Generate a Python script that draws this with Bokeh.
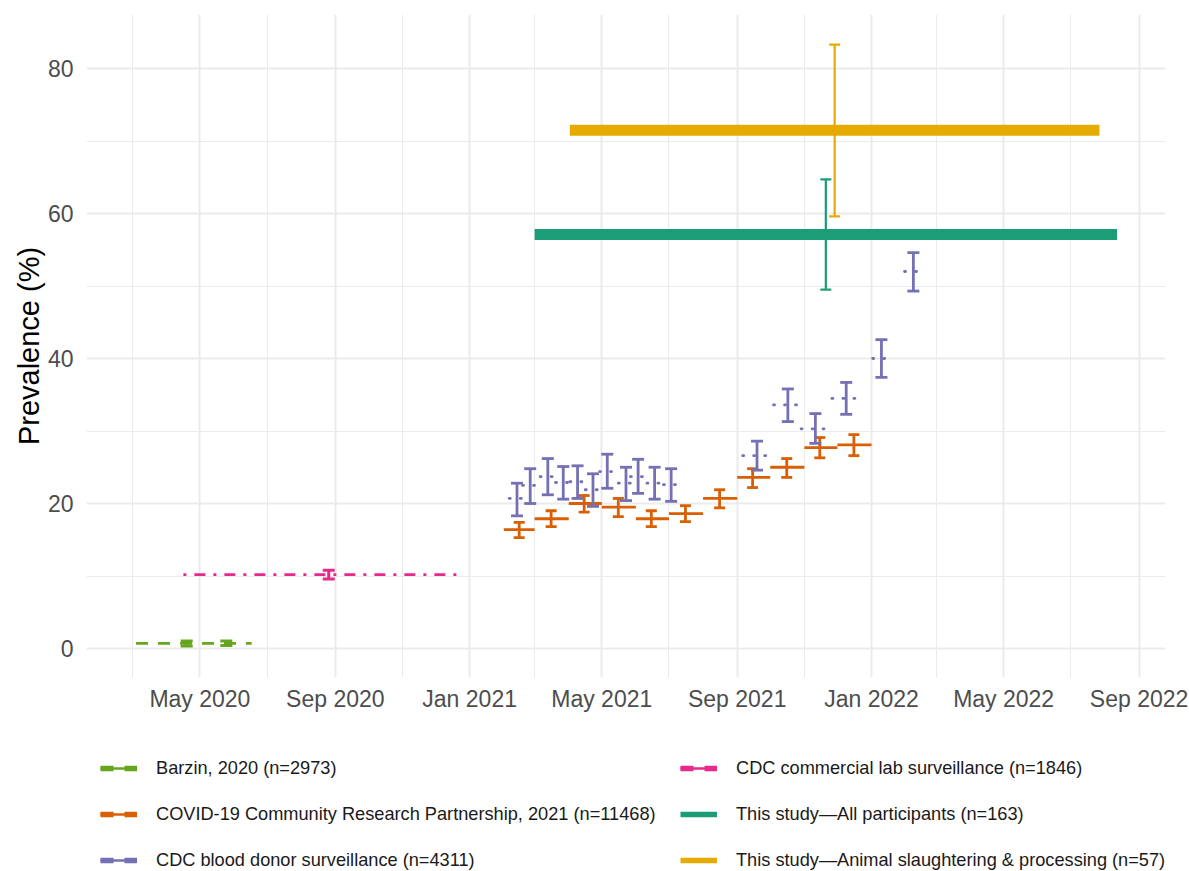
import pandas as pd
from bokeh.plotting import figure
from bokeh.layouts import column
from bokeh.models import (ColumnDataSource, Whisker, TeeHead, FixedTicker,
                          DatetimeTickFormatter, Range1d, Legend, LegendItem)
from bokeh.embed import file_html
from bokeh.resources import INLINE

# ---------------- data ----------------
# Barzin, 2020
barzin_start = ["2020-03-04"]
barzin_end = ["2020-06-17"]
barzin_value = [0.7]
barzin_ci_dates = ["2020-04-19", "2020-05-25"]
barzin_ci_lo = [0.35, 0.4]
barzin_ci_hi = [1.05, 1.05]

# CDC commercial lab surveillance
cdc_lab_start = ["2020-04-16"]
cdc_lab_end = ["2020-12-27"]
cdc_lab_value = [10.2]
cdc_lab_ci_dates = ["2020-08-26"]
cdc_lab_ci_lo = [9.6]
cdc_lab_ci_hi = [10.8]

# COVID-19 Community Research Partnership, 2021 (monthly)
crp_start = ["2021-02-01", "2021-03-01", "2021-04-01", "2021-05-01", "2021-06-01", "2021-07-01",
             "2021-08-01", "2021-09-01", "2021-10-01", "2021-11-01", "2021-12-01"]
crp_end = ["2021-03-01", "2021-04-01", "2021-05-01", "2021-06-01", "2021-07-01", "2021-08-01",
           "2021-09-01", "2021-10-01", "2021-11-01", "2021-12-01", "2022-01-01"]
crp_mid = ["2021-02-15", "2021-03-16", "2021-04-15", "2021-05-16", "2021-06-15", "2021-07-16",
           "2021-08-16", "2021-09-15", "2021-10-16", "2021-11-15", "2021-12-16"]
crp_value = [16.4, 17.9, 20.0, 19.5, 17.9, 18.6, 20.7, 23.6, 25.0, 27.7, 28.1]
crp_lo = [15.3, 16.8, 18.8, 18.2, 16.8, 17.5, 19.4, 22.2, 23.6, 26.3, 26.6]
crp_hi = [17.4, 19.0, 21.1, 20.7, 19.0, 19.7, 21.9, 24.8, 26.2, 29.1, 29.5]

# CDC blood donor surveillance
bd_start = ["2021-02-06", "2021-02-18", "2021-03-06", "2021-03-20", "2021-04-02", "2021-04-16",
            "2021-04-29", "2021-05-16", "2021-05-27", "2021-06-11", "2021-06-26", "2021-09-06",
            "2021-10-04", "2021-10-29", "2021-11-26", "2022-01-02", "2022-01-31"]
bd_end = ["2021-02-20", "2021-03-04", "2021-03-20", "2021-04-03", "2021-04-16", "2021-04-30",
          "2021-05-13", "2021-05-30", "2021-06-10", "2021-06-25", "2021-07-10", "2021-10-02",
          "2021-10-30", "2021-11-24", "2021-12-22", "2022-01-18", "2022-02-16"]
bd_mid = ["2021-02-13", "2021-02-25", "2021-03-13", "2021-03-27", "2021-04-09", "2021-04-23",
          "2021-05-06", "2021-05-23", "2021-06-03", "2021-06-18", "2021-07-03", "2021-09-19",
          "2021-10-17", "2021-11-11", "2021-12-09", "2022-01-10", "2022-02-08"]
bd_value = [20.7, 22.5, 23.7, 22.9, 23.0, 21.9, 24.4, 22.8, 23.7, 22.8, 22.6, 26.6, 33.6, 30.3, 34.5, 40.0, 52.0]
bd_lo = [18.3, 20.0, 21.2, 20.6, 20.7, 19.6, 22.1, 20.4, 21.4, 20.6, 20.3, 24.6, 31.3, 28.3, 32.3, 37.4, 49.3]
bd_hi = [22.8, 24.8, 26.2, 25.1, 25.2, 24.1, 26.8, 25.0, 26.1, 25.0, 24.8, 28.6, 35.8, 32.4, 36.7, 42.6, 54.6]

# This study
all_start = ["2021-03-01"]
all_end = ["2022-08-12"]
all_value = [57.1]
all_lo = [49.5]
all_hi = [64.7]

animal_start = ["2021-04-02"]
animal_end = ["2022-07-27"]
animal_value = [71.5]
animal_lo = [59.6]
animal_hi = [83.3]

labels = ["Barzin, 2020 (n=2973)",
          "COVID-19 Community Research Partnership, 2021 (n=11468)",
          "CDC blood donor surveillance (n=4311)",
          "CDC commercial lab surveillance (n=1846)",
          "This study\u2014All participants (n=163)",
          "This study\u2014Animal slaughtering & processing (n=57)"]

x_major_ticks = ["2020-05-01", "2020-09-01", "2021-01-01", "2021-05-01", "2021-09-01", "2022-01-01", "2022-05-01", "2022-09-01"]
x_minor_ticks = ["2020-03-01", "2020-07-01", "2020-11-01", "2021-03-01", "2021-07-01", "2021-11-01", "2022-03-01", "2022-07-01"]
y_major_ticks = [0, 20, 40, 60, 80]
y_minor_ticks = [10, 30, 50, 70]
x_limits = ["2020-01-19", "2022-09-25"]
y_limits = [-4.0, 87.45]

# ---------------- colours ----------------
C_BARZIN = "#66A61E"
C_CRP = "#D95F02"
C_BD = "#7570B3"
C_LAB = "#E7298A"
C_ALL = "#1B9E77"
C_ANIMAL = "#E6AB02"

FONT = "Liberation Sans"

def dt(lst):
    return pd.to_datetime(lst)

def ms(lst):
    return [pd.Timestamp(d).value / 1e6 for d in lst]

p = figure(width=1189, height=725, x_axis_type="datetime",
           output_backend="svg", toolbar_location=None,
           x_range=Range1d(pd.Timestamp(x_limits[0]), pd.Timestamp(x_limits[1])),
           y_range=Range1d(y_limits[0], y_limits[1]),
           min_border_left=86, min_border_right=24, min_border_top=14, min_border_bottom=48)
p.outline_line_color = None
p.background_fill_color = "white"
p.border_fill_color = "white"

# axes
p.xaxis.ticker = FixedTicker(ticks=ms(x_major_ticks), minor_ticks=ms(x_minor_ticks))
p.xaxis.formatter = DatetimeTickFormatter(days="%b %Y", months="%b %Y", years="%b %Y")
p.yaxis.ticker = FixedTicker(ticks=y_major_ticks, minor_ticks=y_minor_ticks)
for ax in (p.xaxis, p.yaxis):
    ax.axis_line_color = None
    ax.major_tick_line_color = None
    ax.minor_tick_line_color = None
    ax.major_tick_out = 0
    ax.major_tick_in = 0
    ax.minor_tick_out = 0
    ax.minor_tick_in = 0
    ax.major_label_text_font = FONT
    ax.major_label_text_font_size = "23px"
    ax.major_label_text_color = "#4D4D4D"
p.xaxis.major_label_standoff = 8
p.yaxis.major_label_standoff = 13
p.yaxis.axis_label = "Prevalence (%)"
p.yaxis.axis_label_text_font = FONT
p.yaxis.axis_label_text_font_size = "29px"
p.yaxis.axis_label_text_font_style = "normal"
p.yaxis.axis_label_text_color = "black"
p.yaxis.axis_label_standoff = 0

for g in (p.xgrid, p.ygrid):
    g.grid_line_color = "#EBEBEB"
    g.grid_line_width = 2
    g.minor_grid_line_color = "#EBEBEB"
    g.minor_grid_line_width = 1

# ---------------- marks ----------------
def period_source(start, end, value):
    return ColumnDataSource(dict(x0=dt(start), x1=dt(end), y=value))

def errorbars(dates, lo, hi, color, width, cap):
    src = ColumnDataSource(dict(x=dt(dates), lo=lo, hi=hi))
    w = Whisker(source=src, base="x", lower="lo", upper="hi", dimension="height",
                line_color=color, line_width=width, level="annotation",
                upper_head=TeeHead(size=cap, line_color=color, line_width=width),
                lower_head=TeeHead(size=cap, line_color=color, line_width=width))
    p.add_layout(w)

src_all = period_source(all_start, all_end, all_value)
src_animal = period_source(animal_start, animal_end, animal_value)
src_barzin = period_source(barzin_start, barzin_end, barzin_value)
src_lab = period_source(cdc_lab_start, cdc_lab_end, cdc_lab_value)
src_crp = period_source(crp_start, crp_end, crp_value)
src_bd = period_source(bd_start, bd_end, bd_value)

# This study thick bars
for src, c in ((src_all, C_ALL), (src_animal, C_ANIMAL)):
    p.segment(x0="x0", y0="y", x1="x1", y1="y", source=src,
              line_color=c, line_width=11, line_cap="butt")

# Barzin dashed line
p.segment(x0="x0", y0="y", x1="x1", y1="y", source=src_barzin,
          line_color=C_BARZIN, line_width=2.8, line_dash="12 10")
# CDC lab dot-dash line
p.segment(x0="x0", y0="y", x1="x1", y1="y", source=src_lab,
          line_color=C_LAB, line_width=2.7, line_dash="3 8 11 8")
# CRP monthly solid segments
p.segment(x0="x0", y0="y", x1="x1", y1="y", source=src_crp,
          line_color=C_CRP, line_width=2.8)
# Blood donor dotted segments
p.segment(x0="x0", y0="y", x1="x1", y1="y", source=src_bd,
          line_color=C_BD, line_width=2.8, line_dash="1 10", line_cap="round")

errorbars(barzin_ci_dates, barzin_ci_lo, barzin_ci_hi, C_BARZIN, 3, 12)
errorbars(cdc_lab_ci_dates, cdc_lab_ci_lo, cdc_lab_ci_hi, C_LAB, 3, 12)
errorbars(crp_mid, crp_lo, crp_hi, C_CRP, 2.8, 11)
errorbars(bd_mid, bd_lo, bd_hi, C_BD, 2.8, 12)

def midpoint(start, end):
    a, b = dt(start), dt(end)
    return list(a + (b - a) / 2)

errorbars(midpoint(all_start, all_end), all_lo, all_hi, C_ALL, 2.2, 11)
errorbars(midpoint(animal_start, animal_end), animal_lo, animal_hi, C_ANIMAL, 2.2, 11)

# ---------------- legend (separate strip below the plot) ----------------
leg = figure(width=1189, height=146, output_backend="svg", toolbar_location=None,
             x_axis_location=None, y_axis_location=None,
             x_range=Range1d(0, 1), y_range=Range1d(0, 1),
             min_border_left=0, min_border_right=0, min_border_top=0, min_border_bottom=0)
leg.outline_line_color = None
leg.xgrid.visible = False
leg.ygrid.visible = False
leg.background_fill_color = "white"
leg.border_fill_color = "white"

def key_renderers(src, color, solid):
    rs = []
    if solid:
        rs.append(leg.segment(x0="x0", y0="y", x1="x1", y1="y", source=src, visible=False,
                              line_color=color, line_width=5.5, line_cap="butt"))
    else:
        rs.append(leg.segment(x0="x0", y0="y", x1="x1", y1="y", source=src, visible=False,
                              line_color=color, line_width=2.5))
        rs.append(leg.segment(x0="x0", y0="y", x1="x1", y1="y", source=src, visible=False,
                              line_color=color, line_width=5.5, line_dash="13 11", line_cap="butt"))
    return rs

key_specs = [(src_barzin, C_BARZIN, False), (src_crp, C_CRP, False), (src_bd, C_BD, False),
             (src_lab, C_LAB, False), (src_all, C_ALL, True), (src_animal, C_ANIMAL, True)]
items = [LegendItem(label=lab, renderers=key_renderers(s, c, solid))
         for lab, (s, c, solid) in zip(labels, key_specs)]

legend = Legend(items=items, ncols=2, location=(14, -12), orientation="vertical",
                glyph_width=37, glyph_height=46, label_height=46, label_width=524,
                label_standoff=19, spacing=0, padding=0, margin=0,
                border_line_color=None, background_fill_alpha=0,
                inactive_fill_alpha=0,
                label_text_font=FONT, label_text_font_size="18.2px", label_text_color="#1A1A1A")
leg.add_layout(legend, "center")

layout = column(p, leg, spacing=0)
open("out.html", "w").write(file_html(layout, INLINE))
